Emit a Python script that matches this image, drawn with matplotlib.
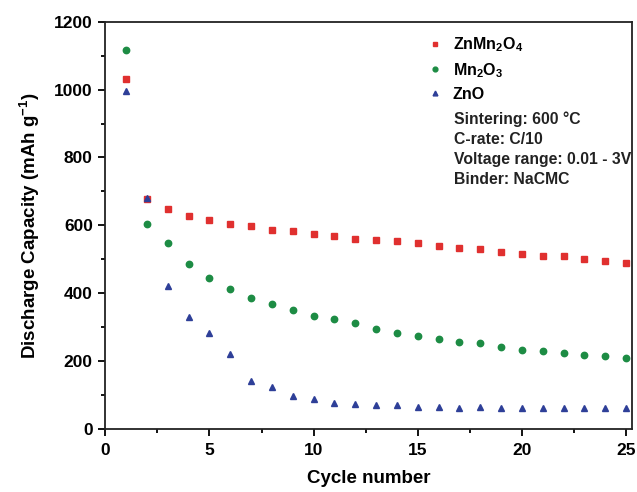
import numpy as np
import matplotlib
matplotlib.use("Agg")
import matplotlib.pyplot as plt

plt.rcParams['font.family'] = ['Liberation Sans', 'DejaVu Sans']
plt.rcParams['font.weight'] = 'bold'
plt.rcParams['mathtext.fontset'] = 'custom'
plt.rcParams['mathtext.rm'] = 'Liberation Sans:bold'
plt.rcParams['mathtext.default'] = 'rm'

cycles = np.arange(1, 26)
znmn2o4 = [1032, 677, 648, 627, 617, 604, 599, 587, 583, 574, 568, 561,
           556, 553, 548, 540, 532, 530, 522, 516, 510, 509, 500, 494, 489]
mn2o3 = [1118, 605, 549, 487, 444, 413, 386, 369, 351, 333, 323, 311,
         295, 283, 274, 266, 257, 252, 243, 234, 229, 223, 219, 214, 208]
zno = [996, 680, 420, 329, 284, 221, 142, 124, 97, 87, 78, 74,
       71, 71, 64, 65, 61, 65, 61, 61, 61, 61, 63, 61, 61]

labels = ['ZnMn$_2$O$_4$', 'Mn$_2$O$_3$', 'ZnO']
notes = ['Sintering: 600 \u00b0C', 'C-rate: C/10',
         'Voltage range: 0.01 - 3V', 'Binder: NaCMC']

fig = plt.figure(figsize=(6.37, 4.92), dpi=100)
ax = fig.add_axes([105.3 / 637, 63 / 492, 526.4 / 637, 407.3 / 492])

ax.plot(cycles, znmn2o4, 's', color='#e0302f', ms=4.4, label=labels[0], zorder=3)
ax.plot(cycles, mn2o3, 'o', color='#1d8c44', ms=4.6, label=labels[1], zorder=2)
ax.plot(cycles, zno, '^', color='#2e3f98', ms=4.6, label=labels[2], zorder=3)

ax.set_xlim(0, 25.27)
ax.set_ylim(0, 1200)
ax.set_xticks([0, 5, 10, 15, 20, 25])
ax.set_xticks(np.arange(2.5, 25, 5), minor=True)
ax.set_yticks(np.arange(0, 1201, 200))
ax.set_yticks(np.arange(100, 1200, 200), minor=True)
ax.tick_params(which='both', direction='out', top=False, right=False,
               labelsize=12.5, width=1.3)
ax.tick_params(axis='x', pad=5)
ax.tick_params(axis='y', pad=4)
ax.tick_params(which='major', length=5)
ax.tick_params(which='minor', length=3)
for sp in ax.spines.values():
    sp.set_linewidth(1.3)
    sp.set_color('#222222')

ax.set_xlabel('Cycle number', fontsize=13.5, fontweight='bold', labelpad=9)
ax.set_ylabel('Discharge Capacity (mAh g$^{-1}$)', fontsize=13.5,
              fontweight='bold', labelpad=9)

leg = ax.legend(loc='upper left', bbox_to_anchor=(0.58, 1.002), frameon=False,
                fontsize=11.5, handletextpad=0.55, labelspacing=0.44,
                markerscale=0.75, handlelength=1.2)

y0 = 119
for i, t in enumerate(notes):
    fig.text(454 / 637, 1 - (y0 + i * 20) / 492, t, fontsize=11.3,
             fontweight='bold', va='center', ha='left', color='#222222')

fig.savefig('out.png', dpi=100)
